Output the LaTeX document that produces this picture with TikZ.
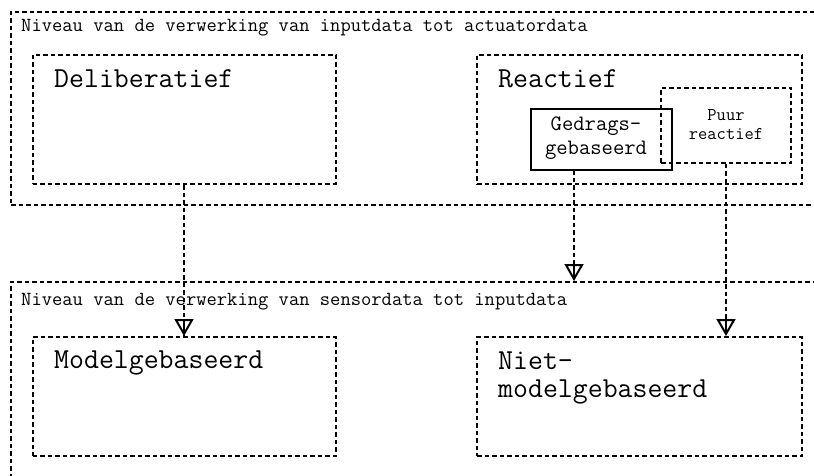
\documentclass[tikz,border=0pt]{standalone}
\usepackage{fontspec}
\usetikzlibrary{arrows.meta,calc}
\begin{document}
\begin{tikzpicture}[x=1pt,y=-1pt,
  dlin/.style={line width=2pt, dash pattern=on 4.5pt off 3pt},
  dbox/.style={draw, dlin, inner sep=0pt},
  sbox/.style={draw, line width=2.6pt, inner sep=0pt},
  tiparrow/.style={line width=2pt, solid, -{Triangle[open, length=17pt, width=19pt]}},
  lbl/.style={anchor=base west, inner sep=0pt},
  hdr/.style={lbl, font=\ttfamily\fontsize{20}{20}\selectfont},
  big/.style={lbl, align=left, font=\ttfamily\fontsize{29}{28}\selectfont},
  mid/.style={inner sep=0pt, align=center, font=\ttfamily\fontsize{22}{23.5}\selectfont},
  sml/.style={inner sep=0pt, align=center, font=\ttfamily\fontsize{18}{19}\selectfont}]
\useasboundingbox (0,0) rectangle (814,476);
\clip (0,0) rectangle (814,476);
% outer frames
\node[dbox, minimum width=819pt, minimum height=193pt] (topframe) at (420.5,108.5) {};
\node[dbox, minimum width=819pt, minimum height=218pt] (botframe) at (420.5,391) {};
% inner boxes
\node[dbox, minimum width=303pt, minimum height=129pt] (delib) at (184,119.5) {};
\node[dbox, minimum width=325pt, minimum height=129pt] (react) at (639.5,119.5) {};
\node[sbox, minimum width=141pt, minimum height=61pt] (gedr) at (601.5,139.5) {};
\node[dbox, minimum width=130pt, minimum height=75pt] (puur) at (726,125.5) {};
\node[dbox, minimum width=303pt, minimum height=119pt] (model) at (184,396.5) {};
\node[dbox, minimum width=325pt, minimum height=119pt] (niet) at (639.5,396.5) {};
% texts
\node[hdr] (h1) at (21,32) {Niveau van de verwerking van inputdata tot actuatordata};
\node[hdr] (h2) at (21,305) {Niveau van de verwerking van sensordata tot inputdata};
\node[big] (t1) at (54,88) {Deliberatief};
\node[big] (t2) at (498,88) {Reactief};
\node[big] (t3) at (54,368) {Modelgebaseerd};
\node[big] (t4) at (498,397) {Niet-\\modelgebaseerd};
\node[mid] (t5) at (596,138) {Gedrags-\\gebaseerd};
\node[sml] (t6) at (726,125) {Puur\\reactief};
% connectors
\coordinate (gs) at (574,170);
\draw[dlin] (delib.south) -- (model.north);
\draw[tiparrow] ($(model.north)+(0,-2)$) -- (model.north);
\draw[dlin] (gs) -- (gs |- botframe.north);
\draw[tiparrow] ($(gs |- botframe.north)+(0,-2)$) -- (gs |- botframe.north);
\draw[dlin] (puur.south) -- (puur.south |- niet.north);
\draw[tiparrow] ($(puur.south |- niet.north)+(0,-2)$) -- (puur.south |- niet.north);
\end{tikzpicture}
\end{document}
